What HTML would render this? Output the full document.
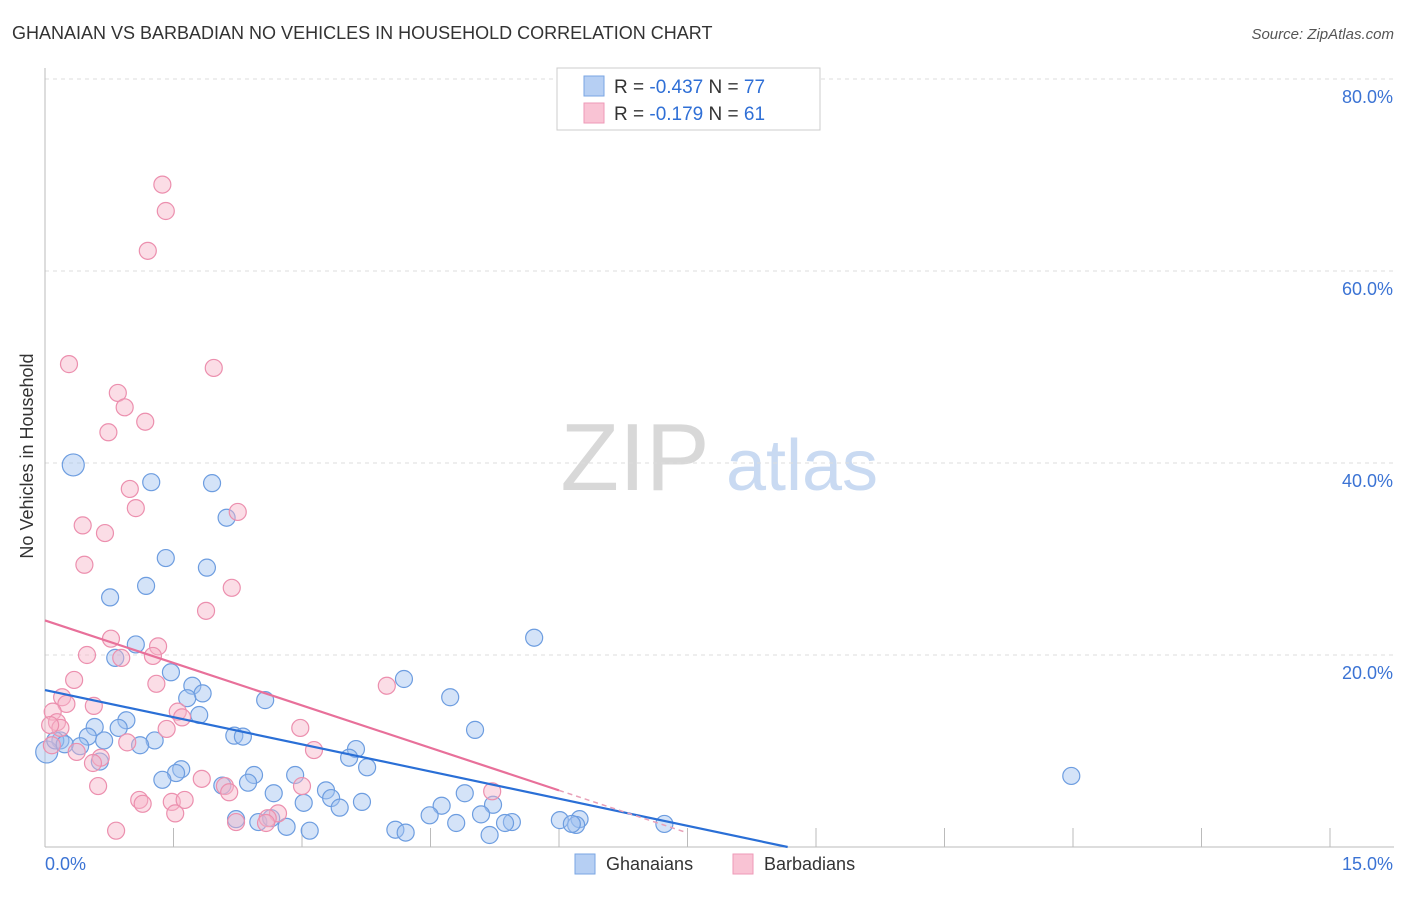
<!DOCTYPE html>
<html><head><meta charset="utf-8"><style>
body{margin:0;background:#fff;font-family:"Liberation Sans",sans-serif;}
svg text{font-family:"Liberation Sans",sans-serif;}
</style></head><body>
<svg id="c" width="1406" height="892" xmlns="http://www.w3.org/2000/svg">
<text x="12" y="39" font-size="18" fill="#333">GHANAIAN VS BARBADIAN NO VEHICLES IN HOUSEHOLD CORRELATION CHART</text>
<text x="1394" y="39" font-size="15" fill="#555" font-style="italic" text-anchor="end">Source: ZipAtlas.com</text>
<text x="33" y="456" font-size="18" fill="#333" text-anchor="middle" transform="rotate(-90 33 456)">No Vehicles in Household</text>
<g>
<text x="635" y="490" font-size="96" fill="#d8d8d8" font-family="Liberation Serif" text-anchor="middle">ZIP</text>
<text x="802" y="490" font-size="72" fill="#c9daf2" text-anchor="middle">atlas</text>
</g>
<g id="grid"></g><g id="axes"></g><g id="pts"></g><g id="trend"></g>
<g>
<rect x="557" y="68" width="263" height="62" fill="#fff" stroke="#ccc"/>
<rect x="584" y="76" width="20" height="20" fill="#b6cff3" stroke="#7aa6e3"/>
<rect x="584" y="103" width="20" height="20" fill="#f9c3d4" stroke="#ee99b7"/>
<text x="614" y="93" font-size="19" fill="#333">R = <tspan fill="#2f6fd6">-0.437</tspan>   N = <tspan fill="#2f6fd6">77</tspan></text>
<text x="614" y="120" font-size="19" fill="#333">R =  <tspan fill="#2f6fd6">-0.179</tspan>   N =  <tspan fill="#2f6fd6">61</tspan></text>
</g>
<g>
<rect x="575" y="854" width="20" height="20" fill="#b6cff3" stroke="#7aa6e3"/>
<text x="606" y="870" font-size="18" fill="#333">Ghanaians</text>
<rect x="733" y="854" width="20" height="20" fill="#f9c3d4" stroke="#ee99b7"/>
<text x="764" y="870" font-size="18" fill="#333">Barbadians</text>
</g>
</svg>
<script>
const yTicks=[20,40,60,80];
const yTickLabels=["20.0%","40.0%","60.0%","80.0%"];
const xTickLabels=["0.0%","15.0%"];
const blueX=[0.33,1.24,1.95,2.12,1.41,1.89,1.18,0.76,5.71,1.06,0.82,1.47,4.19,1.72,1.84,1.66,4.73,2.57,1.80,0.95,0.58,0.86,5.02,2.21,2.31,0.50,0.69,1.28,1.11,0.18,0.41,3.63,3.55,3.76,1.59,1.53,1.37,2.44,2.92,2.37,2.07,11.98,3.28,2.67,3.34,3.02,3.70,3.44,4.90,5.23,4.63,4.49,5.09,2.23,2.49,2.64,5.45,5.37,6.24,6.01,6.20,6.15,4.80,2.82,3.09,4.09,4.21,5.19,7.23,0.64,0.02,0.12,0.23];
const blueY=[39.8,38.0,37.9,34.3,30.1,29.1,27.2,26.0,21.8,21.1,19.7,18.2,17.5,16.8,16.0,15.5,15.6,15.3,13.75,13.2,12.5,12.4,12.2,11.6,11.5,11.5,11.1,11.1,10.6,11.1,10.5,10.2,9.3,8.3,8.1,7.7,7.0,7.5,7.5,6.7,6.4,7.4,5.9,5.6,5.1,4.6,4.7,4.1,5.6,4.4,4.3,3.3,3.4,2.9,2.6,3.0,2.6,2.5,2.9,2.8,2.3,2.4,2.5,2.1,1.7,1.8,1.5,1.25,2.4,8.9,9.9,11.1,10.7];
const pinkX=[1.37,1.41,1.20,0.28,1.97,0.85,0.93,1.17,0.74,0.99,1.06,2.25,0.44,0.70,0.46,1.88,2.18,0.77,1.32,1.26,0.49,0.89,1.30,0.34,3.99,0.20,0.25,0.57,0.09,1.55,1.60,0.14,0.18,1.42,2.98,0.96,0.08,3.14,0.37,0.65,0.56,1.83,2.10,2.15,3.00,0.62,5.22,1.10,1.14,1.48,1.63,1.52,2.72,2.60,2.23,2.58,0.83,0.06];
const pinkY=[69.0,66.25,62.1,50.3,49.9,47.3,45.8,44.3,43.2,37.3,35.3,34.9,33.5,32.7,29.4,24.6,27.0,21.7,20.9,19.9,20.0,19.7,17.0,17.4,16.8,15.6,14.9,14.7,14.1,14.1,13.5,13.0,12.4,12.3,12.4,10.9,10.6,10.1,9.9,9.3,8.75,7.1,6.35,5.7,6.35,6.35,5.8,4.9,4.5,4.7,4.9,3.5,3.5,3.0,2.6,2.5,1.7,12.7];
const blueTrend=[16.35,-1.886];
const pinkTrend=[23.6,-2.95];
const NS="http://www.w3.org/2000/svg";
const X0=45,X1=1330,Y0=847,Y80=79;
const sx=v=>X0+(X1-X0)*v/15;
const sy=v=>Y0-(Y0-Y80)*v/80;
function mk(t,a,p){const e=document.createElementNS(NS,t);for(const k in a)e.setAttribute(k,a[k]);p.appendChild(e);return e;}
const grid=document.getElementById('grid'),axes=document.getElementById('axes'),pts=document.getElementById('pts'),tr=document.getElementById('trend');
yTicks.forEach((v,i)=>{
 const l=mk('line',{x1:X0,x2:1394,y1:sy(v),y2:sy(v),stroke:'#ddd','stroke-dasharray':'4 4'},grid);
 
 
 const t=mk('text',{x:1393,y:sy(v)+24,'font-size':18,fill:'#3b73d4','text-anchor':'end'},axes);
 t.textContent=yTickLabels[i];
 
 
});
const ya=mk('line',{x1:X0,x2:X0,y1:68,y2:Y0,stroke:'#bbb'},axes);


const xa=mk('line',{x1:X0,x2:1394,y1:Y0,y2:Y0,stroke:'#bbb'},axes);


for(let i=1;i<=10;i++){
 const tk=mk('line',{x1:sx(i*1.5),x2:sx(i*1.5),y1:828,y2:Y0,stroke:'#bbb'},axes);
 
 
}
const xl0=mk('text',{x:45,y:870,'font-size':18,fill:'#3b73d4'},axes);
xl0.textContent=xTickLabels[0];


const xl1=mk('text',{x:1393,y:870,'font-size':18,fill:'#3b73d4','text-anchor':'end'},axes);
xl1.textContent=xTickLabels[1];


function dots(xs,ys,fill,stroke,name,bigIdx){
 xs.forEach((x,i)=>{
  const r=bigIdx.includes(i)?11:8.5;
  const c=mk('circle',{cx:sx(x),cy:sy(ys[i]),r:r,fill:fill,'fill-opacity':0.45,stroke:stroke,'stroke-width':1.2},pts);
  
  
 });
}
dots(blueX,blueY,'#9fc0ef','#6d9de0','ghanaian-point',[0,70]);
dots(pinkX,pinkY,'#f6b3c8','#ec8fae','barbadian-point',[]);
const bEnd=-blueTrend[0]/blueTrend[1];
const bl=mk('line',{x1:sx(0),y1:sy(blueTrend[0]),x2:sx(bEnd),y2:sy(0),stroke:'#2a6fd6','stroke-width':2.2},tr);


const pS=6.0,pE=7.5;
const pl=mk('line',{x1:sx(0),y1:sy(pinkTrend[0]),x2:sx(pS),y2:sy(pinkTrend[0]+pinkTrend[1]*pS),stroke:'#e8709a','stroke-width':2.2},tr);


const pd=mk('line',{x1:sx(pS),y1:sy(pinkTrend[0]+pinkTrend[1]*pS),x2:sx(pE),y2:sy(pinkTrend[0]+pinkTrend[1]*pE),stroke:'#e8a0b8','stroke-width':1.5,'stroke-dasharray':'5 4'},tr);


</script>
</body></html>
